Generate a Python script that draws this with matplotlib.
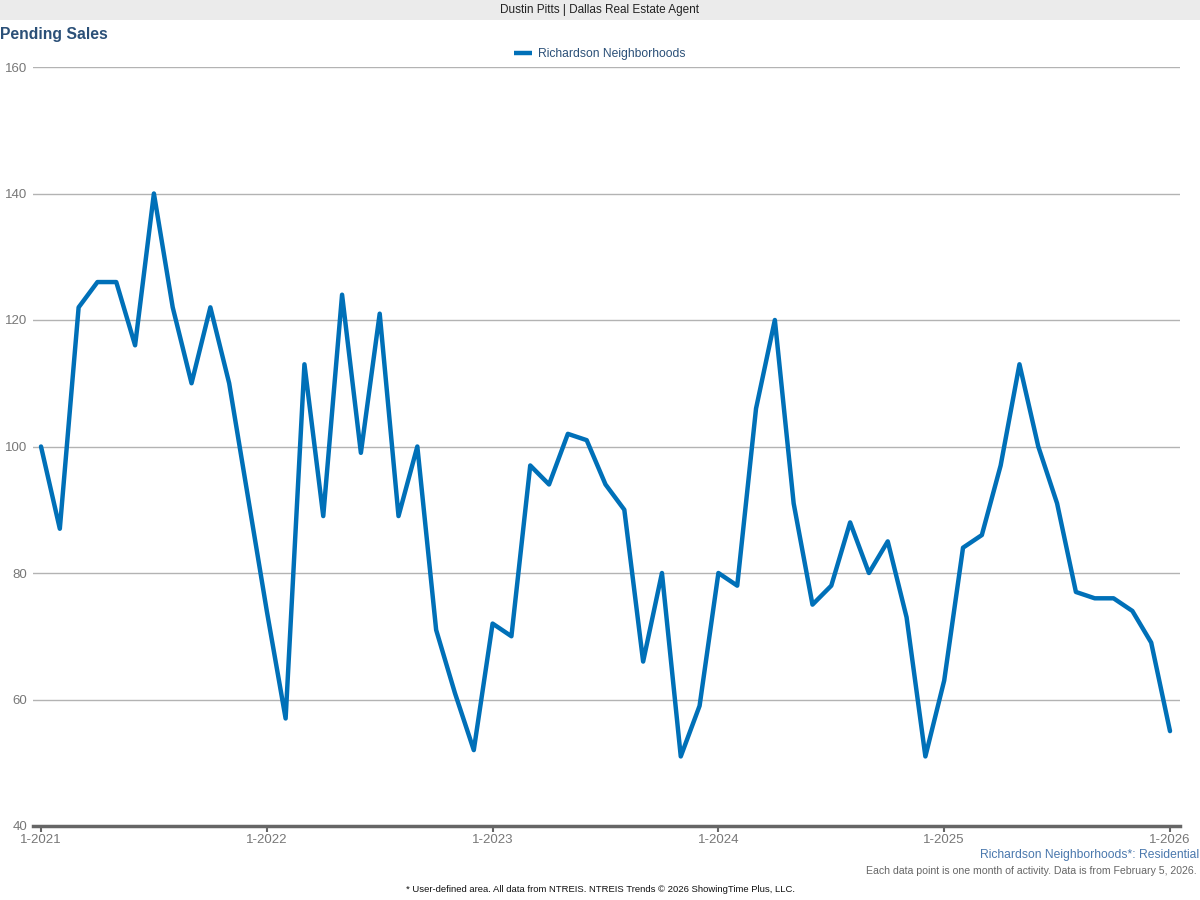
import numpy as np
import matplotlib
matplotlib.use("Agg")
import matplotlib.pyplot as plt
import matplotlib.patches as patches

plt.rcParams['font.family'] = ['Liberation Sans', 'DejaVu Sans']

# monthly pending sales, 1-2021 .. 1-2026
pending = [100, 87, 122, 126, 126, 116, 140, 122, 110, 122, 110, 92,
           74, 57, 113, 89, 124, 99, 121, 89, 100, 71, 61, 52,
           72, 70, 97, 94, 102, 101, 94, 90, 66, 80, 51, 59,
           80, 78, 106, 120, 91, 75, 78, 88, 80, 85, 73, 51,
           63, 84, 86, 97, 113, 100, 91, 77, 76, 76, 74, 69,
           55]
tick_labels = ['1-2021', '1-2022', '1-2023', '1-2024', '1-2025', '1-2026']
y_ticks = [40, 60, 80, 100, 120, 140, 160]
series_name = 'Richardson Neighborhoods'

fig = plt.figure(figsize=(12, 9), dpi=100)

# header band
fig.patches.append(patches.Rectangle((0, 1 - 20/900), 1, 20/900, transform=fig.transFigure,
                                     facecolor='#ebebeb', edgecolor='none', zorder=0))
fig.text(0.5, 1 - 10/900, 'Dustin Pitts | Dallas Real Estate Agent', ha='center', va='center',
         fontsize=8.5, color='#222222')
fig.text(0.0, 1 - 35/900, 'Pending Sales', ha='left', va='center', fontsize=11.3,
         fontweight='bold', color='#2b5078')

ax = fig.add_axes([33/1200, 74/900, 1147/1200, 759/900])
x = np.arange(len(pending))
ax.plot(x, pending, color='#0070b8', linewidth=3.2, solid_joinstyle='round',
        solid_capstyle='round', label=series_name, zorder=3)

ax.set_xlim(-8/18.82, 60 + 10/18.82)
ax.set_ylim(40, 160)
ax.set_yticks(y_ticks)
ax.set_xticks(np.arange(0, 61, 12))
ax.set_xticklabels(tick_labels)
ax.grid(axis='y', color='#b3b3b3', linewidth=1)
ax.set_axisbelow(True)
for s in ['top', 'right', 'left']:
    ax.spines[s].set_visible(False)
ax.spines['bottom'].set_color('#666666')
ax.spines['bottom'].set_linewidth(2.5)
ax.tick_params(axis='y', length=0, pad=4, labelsize=9.5, labelcolor='#777777')
ax.tick_params(axis='x', length=4, width=1.5, color='#666666', pad=2,
               labelsize=9.5, labelcolor='#777777')

leg = fig.legend(loc='center', bbox_to_anchor=(0.5, 1 - 54/900), frameon=False,
                 fontsize=8.7, handlelength=1.5, handletextpad=0.5)
for t in leg.get_texts():
    t.set_color('#2b5078')
for h in leg.get_lines():
    h.set_solid_capstyle('butt')

fig.text(1199/1200, 1 - 855/900, 'Richardson Neighborhoods*: Residential', ha='right',
         va='center', fontsize=8.7, color='#4a78ad')
fig.text(1197/1200, 1 - 871/900,
         'Each data point is one month of activity. Data is from February 5, 2026.',
         ha='right', va='center', fontsize=7.6, color='#666666')
fig.text(0.5, 1 - 889/900,
         '* User-defined area. All data from NTREIS. NTREIS Trends \u00a9 2026 ShowingTime Plus, LLC.',
         ha='center', va='center', fontsize=6.8, color='#111111')

fig.savefig('out.png', dpi=100)
